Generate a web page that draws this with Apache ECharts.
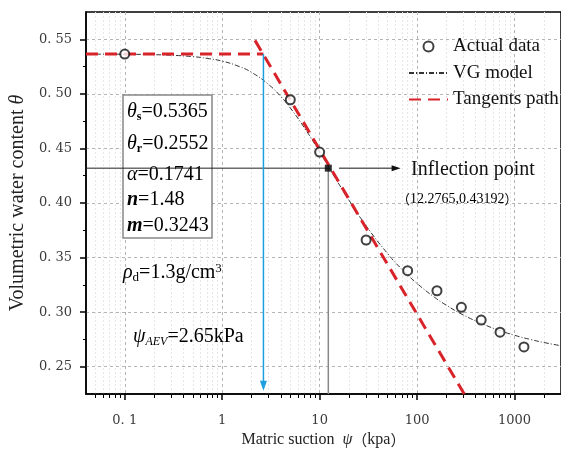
<!DOCTYPE html>
<html><head><meta charset="utf-8">
<script src="https://cdn.jsdelivr.net/npm/echarts@6/dist/echarts.min.js"></script>
<style>html,body{margin:0;padding:0;background:#fff}#c{width:561px;height:453px}</style>
</head><body><div id="c"></div>
<script>
// ---- data ----
const actualPsi   = [0.1, 5, 10, 30, 80, 160, 285, 455, 710, 1250];
const actualTheta = [0.5365, 0.4946, 0.4467, 0.3661, 0.3380, 0.3196, 0.3044, 0.2927, 0.2816, 0.2681];

const vgPsi   = [0.04, 0.1, 0.2, 0.3, 0.5, 0.7, 1, 1.5, 2, 3, 4, 5, 7, 10, 15, 20, 30, 50, 70, 100, 150, 200, 300, 500, 700, 1000, 1500, 2000, 3000];
const vgTheta = [0.5364, 0.5363, 0.5359, 0.5354, 0.5341, 0.5325, 0.5300, 0.5250, 0.5197, 0.5085, 0.4975, 0.4871, 0.4687, 0.4467, 0.4206, 0.4026, 0.3791, 0.3535, 0.3392, 0.3263, 0.3138, 0.3063, 0.2973, 0.2882, 0.2833, 0.2788, 0.2747, 0.2722, 0.2692];

const flatPsi = [0.04, 2.65];
const flatTheta = [0.5365, 0.5365];
const tangentPsi = [2.17, 305];
const tangentTheta = [0.549, 0.225];

const inflection = [12.2765, 0.43192];
const aevPsi = 2.65;
const aevArrowEnd = 0.2325;
const inflArrowPsi = [15.8, 61];

const xMajorTicks = [0.1, 1, 10, 100, 1000];
const xMinorTicks = [0.05,0.06,0.07,0.08,0.09, 0.2,0.3,0.4,0.5,0.6,0.7,0.8,0.9, 2,3,4,5,6,7,8,9, 20,30,40,50,60,70,80,90, 200,300,400,500,600,700,800,900, 2000];
const yMajorTicks = [0.25, 0.30, 0.35, 0.40, 0.45, 0.50, 0.55];
const yMinorTicks = [0.275, 0.325, 0.375, 0.425, 0.475, 0.525];
const xRange = [0.04, 3000];
const yRange = [0.225, 0.575];

const zip = (a, b) => a.map((v, i) => [v, b[i]]);

const SERIF = "'Liberation Serif','Times New Roman','Noto Sans CJK SC',serif";
const CJK = "'Noto Sans CJK SC',sans-serif";
const LABF = "'DejaVu Serif',serif";

const chart = echarts.init(document.getElementById('c'));

const richBase = {
  it: {fontFamily: SERIF, fontStyle: 'italic', fontSize: 20, color: '#111', lineHeight: 22},
  bi: {fontFamily: SERIF, fontStyle: 'italic', fontWeight: 'bold', fontSize: 20, color: '#111', lineHeight: 22},
  n:  {fontFamily: SERIF, fontSize: 20, color: '#111', lineHeight: 22},
  sb: {fontFamily: SERIF, fontWeight: 'bold', fontSize: 12, color: '#111', verticalAlign: 'bottom', lineHeight: 12},
  sr: {fontFamily: SERIF, fontSize: 13, color: '#111', verticalAlign: 'bottom', lineHeight: 12},
  si: {fontFamily: SERIF, fontStyle: 'italic', fontSize: 12, color: '#111', verticalAlign: 'bottom', lineHeight: 12},
  sp: {fontFamily: SERIF, fontSize: 13, color: '#111', verticalAlign: 'top', lineHeight: 12},
  cp: {fontFamily: CJK, fontSize: 13, color: '#222', lineHeight: 16},
  cn: {fontFamily: SERIF, fontSize: 14, color: '#222', lineHeight: 16}
};
function txt(x, y, text) {
  return {type: 'text', x: x, y: y, z: 3, silent: true,
    style: {text: text, rich: richBase, verticalAlign: 'middle', align: 'left'}};
}

const redDash = {color: '#d9232b', width: 3, type: [12, 7]};

const option = {
  animation: false,
  backgroundColor: '#fff',
  grid: {left: 83, top: 12, right: -5, bottom: 52, show: true, borderColor: '#000', borderWidth: 1.5, backgroundColor: 'rgba(0,0,0,0)'},
  legend: {
    data: [
      {name: 'Actual data'},
      {name: 'VG model', itemStyle: {opacity: 0}},
      {name: 'Tangents path', itemStyle: {opacity: 0}}
    ],
    orient: 'vertical', left: 403, top: 32, itemWidth: 39, itemHeight: 10, itemGap: 7.5,
    selectedMode: false,
    textStyle: {fontFamily: SERIF, fontSize: 19, color: '#111'}
  },
  xAxis: [
    {
      type: 'log', logBase: 10, min: xRange[0], max: xRange[1], position: 'bottom',
      name: 'Matric suction  {i|ψ}{c|（}kpa{c|）}', nameLocation: 'middle', nameGap: 38,
      nameTextStyle: {fontFamily: SERIF, fontSize: 16, color: '#222', rich: {
        i: {fontFamily: SERIF, fontStyle: 'italic', fontSize: 16, color: '#222'},
        c: {fontFamily: CJK, fontSize: 15, color: '#222'}}},
      axisLine: {show: true, lineStyle: {color: '#000', width: 1.5}},
      axisTick: {show: true, length: 6, customValues: xMajorTicks, lineStyle: {color: '#000', width: 1.5}},
      axisLabel: {customValues: xMajorTicks, margin: 20, fontFamily: LABF, fontSize: 13, color: '#3a3a3a',
        formatter: v => v < 1 ? '0. ' + Math.round(v * 10) : String(Math.round(v))},
      splitLine: {show: true, lineStyle: {color: '#b4b4b4', type: [3, 3], width: 1}},
      minorTick: {show: false}, minorSplitLine: {show: false}
    },
    {
      type: 'log', logBase: 10, min: xRange[0], max: xRange[1], position: 'bottom',
      axisLine: {show: false},
      axisLabel: {show: false},
      axisTick: {show: true, length: 4, customValues: xMinorTicks, lineStyle: {color: '#000', width: 1}},
      splitLine: {show: true, lineStyle: {color: '#e6e6e6', type: [2, 2], width: 1}}
    }
  ],
  yAxis: [
    {
      type: 'value', min: yRange[0], max: yRange[1], position: 'left',
      name: 'Volumetric water content {i|θ}', nameLocation: 'middle', nameGap: 51, nameRotate: 90,
      nameTextStyle: {fontFamily: SERIF, fontSize: 20, color: '#222', rich: {i: {fontFamily: SERIF, fontStyle: 'italic', fontSize: 20, color: '#222'}}},
      axisLine: {show: true, lineStyle: {color: '#000', width: 1.5}},
      axisTick: {show: true, length: 6, customValues: yMajorTicks, lineStyle: {color: '#000', width: 1.5}},
      axisLabel: {customValues: yMajorTicks, margin: 14, fontFamily: LABF, fontSize: 13, color: '#3a3a3a',
        formatter: v => v.toFixed(2).replace('.', '. ')},
      splitLine: {show: true, lineStyle: {color: '#b4b4b4', type: [3, 3], width: 1}}
    },
    {
      type: 'value', min: yRange[0], max: yRange[1], position: 'left',
      axisLine: {show: false}, axisLabel: {show: false}, splitLine: {show: false},
      axisTick: {show: true, length: 3, customValues: yMinorTicks, lineStyle: {color: '#000', width: 1}}
    }
  ],
  graphic: [
    {type: 'rect', z: 1, silent: true, shape: {x: 123, y: 95, width: 89, height: 143}, style: {fill: '#fff', stroke: '#888', lineWidth: 1.5}},
    txt(127, 112, '{it|θ}{sb|s}{n|=0.5365}'),
    txt(127, 144, '{it|θ}{sb|r}{n|=0.2552}'),
    txt(127, 175, '{it|α}{n|=0.1741}'),
    txt(127, 200, '{bi|n}{n|=1.48}'),
    txt(127, 226, '{bi|m}{n|=0.3243}'),
    txt(123, 273, '{it|ρ}{sr|d}{n|=1.3g/cm}{sp|3}'),
    txt(133, 337, '{it|ψ}{si|AEV}{n|=2.65kPa}'),
    {type: 'text', x: 411, y: 170, z: 3, silent: true, style: {text: 'Inflection point', fontFamily: SERIF, fontSize: 20, fill: '#111', verticalAlign: 'middle'}},
    txt(397, 199, '{cp|（}{cn|12.2765,0.43192}{cp|）}')
  ],
  series: [
    {
      name: 'VG model', type: 'line', data: zip(vgPsi, vgTheta), smooth: true, symbol: 'none', z: 3,
      lineStyle: {color: '#333', width: 1, type: [5, 2, 1, 2]}, itemStyle: {color: '#333'}
    },
    {
      name: 'Tangents path', type: 'line', data: zip(flatPsi, flatTheta), symbol: 'none', z: 4,
      lineStyle: redDash, itemStyle: {color: '#d9232b'}
    },
    {
      name: 'Tangents path', type: 'line', data: zip(tangentPsi, tangentTheta), symbol: 'none', z: 4,
      lineStyle: redDash, itemStyle: {color: '#d9232b'}
    },
    {
      name: 'guideH', type: 'line', data: [[xRange[0], inflection[1]], inflection], symbol: 'none', z: 5,
      lineStyle: {color: '#222', width: 1}
    },
    {
      name: 'guideV', type: 'line', data: [inflection, [inflection[0], yRange[0]]], symbol: 'none', z: 2,
      lineStyle: {color: '#888', width: 1.5}
    },
    {
      name: 'aevArrow', type: 'line', data: [[aevPsi, flatTheta[0]], [aevPsi, aevArrowEnd]], z: 5, silent: true,
      symbol: 'none', lineStyle: {color: '#1e9fe0', width: 1.5},
      markPoint: {
        silent: true, symbol: 'triangle', symbolSize: [7, 10], symbolRotate: 180, label: {show: false},
        itemStyle: {color: '#1e9fe0'},
        data: [{coord: [aevPsi, aevArrowEnd]}]
      }
    },
    {
      name: 'inflArrow', type: 'line', data: zip(inflArrowPsi, [inflection[1], inflection[1]]), z: 5, silent: true,
      symbol: 'none', lineStyle: {color: '#111', width: 1},
      markPoint: {
        silent: true, symbol: 'triangle', symbolSize: [6, 9], symbolRotate: -90, label: {show: false},
        itemStyle: {color: '#111'},
        data: [{coord: [inflArrowPsi[1], inflection[1]]}]
      }
    },
    {
      name: 'Actual data', type: 'scatter', data: zip(actualPsi, actualTheta), symbol: 'emptyCircle', symbolSize: 9, z: 6,
      itemStyle: {color: '#111', borderColor: '#111', borderWidth: 1.3}
    },
    {
      name: 'Inflection point', type: 'scatter', data: [inflection], symbol: 'rect', symbolSize: 7, z: 7,
      itemStyle: {color: '#000'}
    }
  ]
};
chart.setOption(option);
</script>
</body></html>
